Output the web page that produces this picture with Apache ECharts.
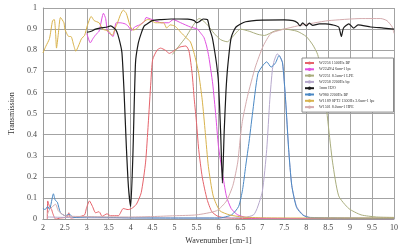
<!DOCTYPE html>
<html><head><meta charset="utf-8">
<script src="https://cdn.jsdelivr.net/npm/echarts@6/dist/echarts.min.js"></script>
<style>html,body{margin:0;padding:0;background:#fff}#c{width:410px;height:250px}</style>
</head><body><div id="c"></div>
<script>
// Tick labels
const xTicks = ['2','2.5','3','3.5','4','4.5','5','5.5','6','6.5','7','7.5','8','8.5','9','9.5','10'];
const yTicks = ['0','0.1','0.2','0.3','0.4','0.5','0.6','0.7','0.8','0.9','1'];
const seriesNames = ['W2256 1500Hz BP','W2249/4 6um-1 lpe','W2251 8.5um-1 LPE','W2258 2200Hz bp','1mm H2O','W980 2200Hz BP','W1189 SPT2 1300Hz 3.6um-1 lpe','W1501 8.0um-1 HPE'];

// [wavenumber, transmission]
const w2256BP = [[2.1,0],[2.11,0.086],[2.15,0.06],[2.2,0.045],[2.22,0.03],[2.29,0],[2.4,0.005],[2.55,0.01],[2.59,0.03],[2.63,0.005],[2.8,0.01],[2.95,0.02],[2.99,0.05],[3.06,0.086],[3.13,0.06],[3.2,0.03],[3.28,0.035],[3.35,0.013],[3.46,0.025],[3.54,0.016],[3.72,0.016],[3.83,0.05],[3.94,0.045],[4.02,0.05],[4.13,0.07],[4.24,0.125],[4.34,0.27],[4.4,0.45],[4.46,0.65],[4.5,0.755],[4.6,0.8],[4.68,0.81],[4.79,0.8],[4.88,0.785],[4.97,0.795],[5.12,0.815],[5.26,0.82],[5.33,0.795],[5.4,0.69],[5.45,0.565],[5.5,0.457],[5.55,0.33],[5.63,0.2],[5.74,0.094],[5.85,0.035],[6.0,0.012],[6.3,0.004],[7,0.003],[8,0.003],[9,0.003],[10,0.003]];
const w2249lpe = [[3.0,0.88],[3.08,0.835],[3.14,0.855],[3.21,0.875],[3.28,0.89],[3.38,0.975],[3.43,0.95],[3.47,0.89],[3.54,0.875],[3.6,0.865],[3.67,0.93],[3.76,0.93],[3.87,0.925],[3.94,0.915],[4.02,0.893],[4.09,0.91],[4.2,0.92],[4.31,0.935],[4.35,0.955],[4.49,0.945],[4.7,0.93],[4.86,0.93],[4.97,0.945],[5.14,0.93],[5.36,0.91],[5.52,0.9],[5.6,0.88],[5.67,0.86],[5.73,0.82],[5.78,0.77],[5.83,0.7],[5.87,0.64],[5.94,0.49],[6.0,0.345],[6.09,0.22],[6.18,0.11],[6.29,0.05],[6.44,0.02],[6.68,0.006],[7.5,0.003],[10,0.002]];
const w2251LPE = [[4.95,0.78],[5.1,0.82],[5.25,0.86],[5.4,0.91],[5.5,0.94],[5.56,0.95],[5.62,0.945],[5.75,0.92],[5.9,0.88],[6.05,0.85],[6.2,0.84],[6.35,0.87],[6.5,0.9],[6.7,0.89],[6.9,0.875],[7.05,0.87],[7.27,0.89],[7.5,0.9],[7.79,0.89],[8.0,0.865],[8.15,0.825],[8.26,0.78],[8.37,0.675],[8.44,0.565],[8.5,0.45],[8.6,0.27],[8.74,0.11],[8.97,0.05],[9.25,0.02],[9.6,0.01],[10,0.008]];
const w2258bp = [[2.1,0.01],[2.5,0.008],[3,0.006],[4,0.005],[5,0.005],[6,0.005],[6.6,0.008],[6.8,0.02],[6.88,0.05],[7.0,0.13],[7.1,0.33],[7.17,0.565],[7.23,0.71],[7.27,0.75],[7.34,0.783],[7.4,0.77],[7.46,0.74],[7.53,0.56],[7.6,0.33],[7.67,0.16],[7.78,0.06],[7.93,0.02],[8.1,0.008],[10,0.004]];
const h2o1mm = [[3.0,0.885],[3.1,0.89],[3.2,0.9],[3.3,0.905],[3.47,0.91],[3.54,0.915],[3.62,0.905],[3.68,0.89],[3.74,0.85],[3.8,0.79],[3.85,0.6],[3.9,0.35],[3.95,0.15],[4.0,0.06],[4.05,0.3],[4.11,0.74],[4.17,0.83],[4.24,0.88],[4.31,0.915],[4.38,0.925],[4.49,0.94],[4.7,0.945],[4.92,0.948],[5.1,0.948],[5.3,0.947],[5.45,0.94],[5.5,0.93],[5.56,0.935],[5.65,0.948],[5.75,0.945],[5.8,0.9],[5.86,0.86],[5.91,0.8],[5.96,0.73],[6.0,0.65],[6.05,0.41],[6.09,0.17],[6.13,0.41],[6.17,0.6],[6.21,0.72],[6.29,0.86],[6.4,0.91],[6.62,0.935],[6.99,0.943],[7.5,0.944],[7.7,0.94],[7.8,0.93],[7.86,0.915],[7.92,0.93],[8.0,0.915],[8.07,0.928],[8.15,0.918],[8.3,0.925],[8.44,0.925],[8.6,0.92],[8.74,0.91],[8.8,0.865],[8.85,0.905],[8.97,0.925],[9.08,0.905],[9.18,0.92],[9.47,0.91],[9.76,0.905],[10,0.9]];
const w980BP = [[2.0,0.05],[2.05,0.045],[2.11,0.06],[2.15,0.045],[2.24,0.12],[2.28,0.09],[2.33,0.08],[2.4,0.03],[2.51,0.016],[2.6,0.023],[2.7,0.008],[3,0.01],[3.5,0.008],[4,0.006],[5,0.005],[6,0.005],[6.3,0.02],[6.46,0.06],[6.55,0.14],[6.62,0.25],[6.7,0.37],[6.77,0.49],[6.9,0.69],[7.02,0.73],[7.1,0.745],[7.2,0.72],[7.3,0.74],[7.38,0.775],[7.46,0.74],[7.53,0.565],[7.6,0.33],[7.67,0.16],[7.78,0.055],[7.93,0.018],[8.1,0.006],[10,0.004]];
const w1189lpe = [[2.0,0.787],[2.07,0.82],[2.15,0.855],[2.22,0.94],[2.26,0.945],[2.29,0.88],[2.31,0.81],[2.35,0.875],[2.4,0.955],[2.48,0.93],[2.5,0.9],[2.59,0.865],[2.64,0.865],[2.7,0.825],[2.75,0.795],[2.81,0.82],[2.88,0.855],[2.95,0.87],[3.01,0.915],[3.1,0.96],[3.17,0.94],[3.28,0.93],[3.36,0.9],[3.43,0.895],[3.5,0.89],[3.58,0.87],[3.65,0.905],[3.7,0.93],[3.77,0.97],[3.83,0.99],[3.9,0.975],[3.98,0.92],[4.05,0.895],[4.12,0.9],[4.2,0.915],[4.27,0.93],[4.38,0.945],[4.42,0.945],[4.57,0.93],[4.75,0.93],[4.82,0.905],[4.9,0.92],[5.0,0.915],[5.08,0.9],[5.14,0.885],[5.26,0.86],[5.36,0.84],[5.44,0.79],[5.5,0.74],[5.55,0.69],[5.63,0.565],[5.7,0.41],[5.77,0.25],[5.88,0.11],[6.03,0.04],[6.25,0.02],[6.55,0.01],[7,0.006],[8,0.005],[10,0.005]];
const w1501HPE = [[2.1,0.02],[2.15,0.045],[2.29,0.07],[2.35,0.04],[2.5,0.016],[3,0.012],[3.5,0.01],[4,0.01],[4.5,0.012],[5,0.016],[5.5,0.02],[5.96,0.04],[6.18,0.085],[6.33,0.16],[6.44,0.27],[6.5,0.39],[6.55,0.47],[6.66,0.58],[6.84,0.72],[7.02,0.82],[7.2,0.88],[7.5,0.9],[7.8,0.915],[8.2,0.93],[8.5,0.94],[9.25,0.95],[9.7,0.95],[9.84,0.94],[9.96,0.91],[10,0.88]];

const seriesData = [w2256BP, w2249lpe, w2251LPE, w2258bp, h2o1mm, w980BP, w1189lpe, w1501HPE];
const colors = ['#e5636b','#e04fe0','#a9ad7d','#b6a8cc','#1a1a1a','#4a88c4','#d8b24c','#d4abae'];

const serif = '"Liberation Serif","DejaVu Serif",serif';
const chart = echarts.init(document.getElementById('c'), null, {renderer:'canvas'});
chart.setOption({
  animation:false,
  backgroundColor:'#fff',
  color: colors,
  grid:{left:30, right:16, top:8, bottom:30},
  xAxis:{type:'value', min:2, max:10, interval:0.5,
    name:'Wavenumber [cm-1]', nameLocation:'middle', nameGap:13,
    nameTextStyle:{fontFamily:serif, fontSize:8, color:'#333'},
    axisLine:{show:true, lineStyle:{color:'#9a9a9a'}}, axisTick:{show:false},
    axisLabel:{fontFamily:serif, fontSize:8, color:'#444', margin:5, formatter:(v)=>xTicks[Math.round((v-2)/0.5)] ?? ''},
    splitLine:{show:true, lineStyle:{color:'#a3a3a3', width:1}}},
  yAxis:{type:'value', min:0, max:1, interval:0.1,
    name:'Transmission', nameLocation:'middle', nameGap:15,
    nameTextStyle:{fontFamily:serif, fontSize:8, color:'#333'},
    axisLine:{show:true, lineStyle:{color:'#9a9a9a'}}, axisTick:{show:false},
    axisLabel:{fontFamily:serif, fontSize:8, color:'#444', margin:6, formatter:(v)=>yTicks[Math.round(v*10)] ?? ''},
    splitLine:{show:true, lineStyle:{color:'#a3a3a3', width:1}}},
  legend:{orient:'vertical', left:302, top:58, data:seriesNames,
    backgroundColor:'#fff', borderColor:'#8a8a8a', borderWidth:1,
    padding:[3,19,3,2], itemGap:2.3, itemWidth:9, itemHeight:4,
    textStyle:{fontFamily:serif, fontSize:4, lineHeight:4, color:'#333'}},
  series: seriesNames.map((n,i)=>({
    name:n, type:'line', data:seriesData[i], showSymbol:false, symbol:'none',
    smooth:0.2, lineStyle:{width: i===4 ? 1.2 : 1, color:colors[i]}, z: i===4 ? 3 : 2
  }))
});
</script></body></html>
